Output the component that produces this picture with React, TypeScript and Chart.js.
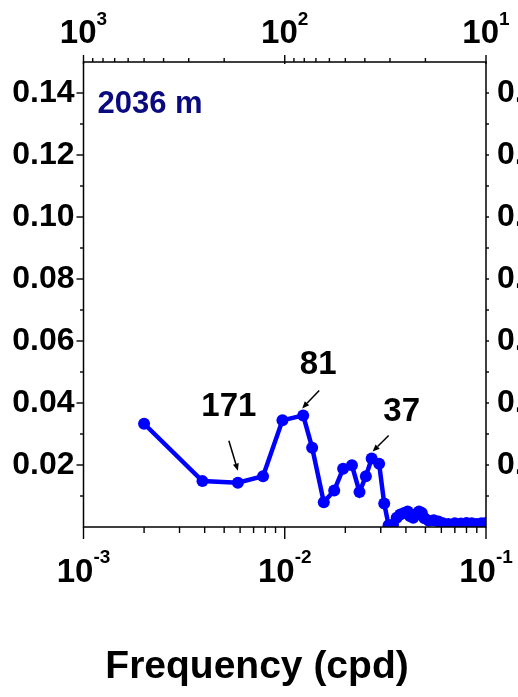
import React, { useEffect, useRef } from "react";
import { Chart, registerables } from "chart.js";

Chart.register(...registerables);

// Spectrum at 2036 m depth: frequency (cycles per day) vs amplitude
const frequency = [
  0.002, 0.0039, 0.005848, 0.0078, 0.00974, 0.01235, 0.01368, 0.01563, 0.01761, 0.0195,
  0.02157, 0.02352, 0.0253, 0.02703, 0.02944, 0.0312, 0.0328, 0.0345, 0.036, 0.0375,
  0.0392, 0.0408, 0.042, 0.0435, 0.045, 0.0465, 0.048, 0.0495, 0.052, 0.055,
  0.058, 0.061, 0.065, 0.07, 0.075, 0.08, 0.085, 0.09, 0.095, 0.1,
];
const amplitude = [
  0.0333, 0.0148, 0.0143, 0.0164, 0.0344, 0.036, 0.0256, 0.008, 0.0118, 0.0188,
  0.0199, 0.0113, 0.0164, 0.0221, 0.0204, 0.0076, 0.0006, 0.0008, 0.003, 0.004,
  0.0045, 0.005, 0.0035, 0.003, 0.0042, 0.005, 0.0045, 0.0028, 0.002, 0.0022,
  0.0018, 0.0012, 0.001, 0.0012, 0.0011, 0.0013, 0.0012, 0.001, 0.0012, 0.0013,
];

// Axis ticks
const yMajorTicks = [0.02, 0.04, 0.06, 0.08, 0.1, 0.12, 0.14];
const yMinorTicks = [0.01, 0.03, 0.05, 0.07, 0.09, 0.11, 0.13];
const freqMajorTicks = [0.001, 0.01, 0.1];
const freqExponents = ["-3", "-2", "-1"];
const freqMinorTicks = [
  0.002, 0.003, 0.004, 0.005, 0.006, 0.007, 0.008, 0.009,
  0.02, 0.03, 0.04, 0.05, 0.06, 0.07, 0.08, 0.09,
];
const periodMajorTicks = [1000, 100, 10];
const periodExponents = ["3", "2", "1"];
const periodMinorTicks = [900, 800, 700, 600, 500, 400, 300, 200, 90, 80, 70, 60, 50, 40, 30, 20];

// Labelled spectral peaks (period in days)
const peakPeriods = [171, 81, 37];
const depthLabel = "2036 m";
const xTitle = "Frequency (cpd)";

const FONT = '"Liberation Sans", Arial, Helvetica, sans-serif';

// Label / arrow placement relative to each peak's point, in pixels
const peakLayout = [
  { text: [-9, -67], from: [-9, -42], to: [0, -12] },
  { text: [15, -41], from: [16, -25], to: [-1, -7] },
  { text: [30, -37], from: [17, -23], to: [1, -7] },
];

function drawPower(ctx: CanvasRenderingContext2D, cx: number, baseY: number, expY: number, exp: string) {
  const baseFont = `bold 33px ${FONT}`;
  const expFont = `bold 19px ${FONT}`;
  ctx.font = baseFont;
  const wb = ctx.measureText("10").width;
  ctx.font = expFont;
  const we = ctx.measureText(exp).width;
  const left = cx - (wb + we) / 2;
  ctx.textAlign = "left";
  ctx.textBaseline = "alphabetic";
  ctx.font = baseFont;
  ctx.fillText("10", left, baseY);
  ctx.font = expFont;
  ctx.fillText(exp, left + wb, expY);
}

function drawArrow(ctx: CanvasRenderingContext2D, x1: number, y1: number, x2: number, y2: number) {
  const ang = Math.atan2(y2 - y1, x2 - x1);
  const len = 7;
  const hw = 3;
  const bx = x2 - len * Math.cos(ang);
  const by = y2 - len * Math.sin(ang);
  ctx.beginPath();
  ctx.moveTo(x1, y1);
  ctx.lineTo(bx, by);
  ctx.stroke();
  ctx.beginPath();
  ctx.moveTo(x2, y2);
  ctx.lineTo(bx + hw * Math.sin(ang), by - hw * Math.cos(ang));
  ctx.lineTo(bx - hw * Math.sin(ang), by + hw * Math.cos(ang));
  ctx.closePath();
  ctx.fill();
}

const decorPlugin = {
  id: "decor",
  afterDraw(chart: any) {
    const { ctx, chartArea: a, scales } = chart;
    const xs = scales.x;
    const ys = scales.y;
    const line = (x1: number, y1: number, x2: number, y2: number) => {
      ctx.beginPath();
      ctx.moveTo(x1, y1);
      ctx.lineTo(x2, y2);
      ctx.stroke();
    };
    ctx.save();
    ctx.strokeStyle = "#000";
    ctx.fillStyle = "#000";

    // frame
    ctx.lineWidth = 1.5;
    ctx.strokeRect(a.left, a.top, a.right - a.left, a.bottom - a.top);

    // tick marks
    ctx.lineWidth = 1.4;
    freqMajorTicks.forEach((f) => {
      const px = xs.getPixelForValue(f);
      line(px, a.bottom, px, a.bottom + 12);
    });
    freqMinorTicks.forEach((f) => {
      const px = xs.getPixelForValue(f);
      line(px, a.bottom, px, a.bottom + 6);
    });
    periodMajorTicks.forEach((p) => {
      const px = xs.getPixelForValue(1 / p);
      line(px, a.top + 2, px, a.top - 7);
    });
    periodMinorTicks.forEach((p) => {
      const px = xs.getPixelForValue(1 / p);
      line(px, a.top, px, a.top - 4);
    });
    yMajorTicks.forEach((v) => {
      const py = ys.getPixelForValue(v);
      line(a.left - 7, py, a.left, py);
      line(a.right, py, a.right + 3, py);
    });
    yMinorTicks.forEach((v) => {
      const py = ys.getPixelForValue(v);
      line(a.left - 3.5, py, a.left, py);
      line(a.right, py, a.right + 3, py);
    });

    // decade labels: frequency below, period above
    freqMajorTicks.forEach((f, i) => {
      drawPower(ctx, xs.getPixelForValue(f), a.bottom + 55, a.bottom + 36, freqExponents[i]);
    });
    periodMajorTicks.forEach((p, i) => {
      drawPower(ctx, xs.getPixelForValue(1 / p), a.top - 19, a.top - 37, periodExponents[i]);
    });

    // peak annotations
    ctx.font = `bold 33px ${FONT}`;
    ctx.textAlign = "center";
    ctx.textBaseline = "alphabetic";
    ctx.lineWidth = 1.5;
    peakPeriods.forEach((p, i) => {
      const f = 1 / p;
      let idx = 0;
      frequency.forEach((fv, j) => {
        if (Math.abs(Math.log(fv / f)) < Math.abs(Math.log(frequency[idx] / f))) idx = j;
      });
      const px = xs.getPixelForValue(frequency[idx]);
      const py = ys.getPixelForValue(amplitude[idx]);
      const L = peakLayout[i];
      ctx.fillText(String(p), px + L.text[0], py + L.text[1]);
      drawArrow(ctx, px + L.from[0], py + L.from[1], px + L.to[0], py + L.to[1]);
    });

    // depth label
    ctx.fillStyle = "#0a0a80";
    ctx.font = `bold 31px ${FONT}`;
    ctx.textAlign = "left";
    ctx.fillText(depthLabel, a.left + 14, a.top + 51);

    // axis title
    ctx.fillStyle = "#000";
    ctx.font = `bold 39px ${FONT}`;
    ctx.textAlign = "center";
    ctx.fillText(xTitle, 257, 678);

    ctx.restore();
  },
};

const yTickFont = { family: FONT, size: 32, weight: "bold" as const };

export default function App() {
  const canvasRef = useRef<HTMLCanvasElement | null>(null);

  useEffect(() => {
    if (!canvasRef.current) return;
    const points = frequency.map((f, i) => ({ x: f, y: amplitude[i] }));
    const setYTicks = (scale: any) => {
      scale.ticks = yMajorTicks.map((v) => ({ value: v }));
    };
    const chart = new Chart(canvasRef.current, {
      type: "line",
      data: {
        datasets: [
          {
            data: points,
            borderColor: "#0000ff",
            backgroundColor: "#0000ff",
            borderWidth: 4.5,
            pointRadius: 6,
            pointBorderWidth: 0,
            pointBackgroundColor: "#0000ff",
            tension: 0,
            clip: 0,
          },
        ],
      },
      options: {
        animation: false,
        responsive: true,
        maintainAspectRatio: false,
        layout: { padding: { top: 62, left: 0, right: 0, bottom: 0 } },
        plugins: { legend: { display: false }, tooltip: { enabled: false } },
        scales: {
          x: {
            type: "logarithmic",
            position: "bottom",
            min: 0.001,
            max: 0.1,
            grid: { display: false, drawTicks: false },
            border: { display: false },
            ticks: { display: false },
            afterFit: (s: any) => {
              s.height = 170;
            },
          },
          y: {
            type: "linear",
            position: "left",
            min: 0,
            max: 0.15,
            bounds: "data",
            grid: { display: false, drawTicks: false },
            border: { display: false },
            afterBuildTicks: setYTicks,
            ticks: {
              padding: 9,
              color: "#000",
              font: yTickFont,
              callback: (v: any) => Number(v).toFixed(2),
            },
            afterFit: (s: any) => {
              s.width = 83.5;
            },
          },
          y2: {
            type: "linear",
            position: "right",
            min: 0,
            max: 0.15,
            bounds: "data",
            grid: { display: false, drawTicks: false },
            border: { display: false },
            afterBuildTicks: setYTicks,
            ticks: {
              padding: 11,
              color: "#000",
              font: yTickFont,
              callback: (v: any) => Number(v).toFixed(2),
            },
            afterFit: (s: any) => {
              s.width = 32;
            },
          },
        },
      },
      plugins: [decorPlugin],
    });
    return () => chart.destroy();
  }, []);

  return (
    <div style={{ position: "absolute", left: 0, top: 0, width: 518, height: 697, background: "#fff" }}>
      <canvas ref={canvasRef} />
    </div>
  );
}
